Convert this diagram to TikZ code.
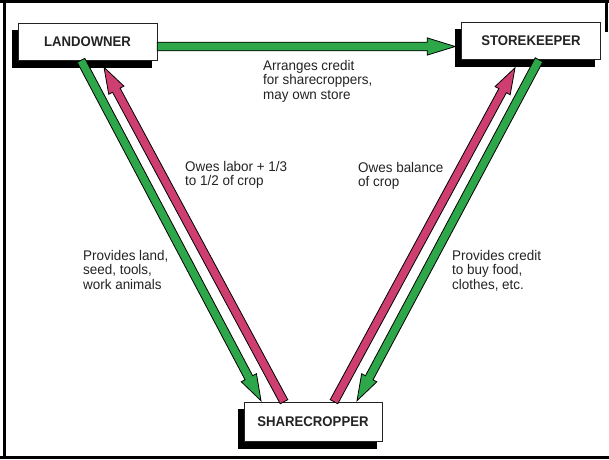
\documentclass[tikz,border=0pt]{standalone}
\usepackage{fontspec}
\setmainfont{Liberation Sans}
\usetikzlibrary{calc,shadows}
\definecolor{agreen}{RGB}{46,166,74}
\definecolor{apink}{RGB}{206,62,112}
\definecolor{ink}{RGB}{35,35,35}
\newcommand{\fatarrow}[4]{% start, tip, colour, head length
  \path ($(#2)!#4!(#1)$) coordinate (fatH);
  \filldraw[fill=#3,draw=black,line width=0.8pt,line join=miter]
    ($(#1)!4.3pt!90:(#2)$) -- ($(fatH)!4.3pt!90:(#2)$) -- ($(fatH)!8.6pt!90:(#2)$)
    -- (#2) -- ($(fatH)!8.6pt!-90:(#2)$) -- ($(fatH)!4.3pt!-90:(#2)$)
    -- ($(#1)!4.3pt!-90:(#2)$) -- cycle;
}
\tikzset{
  role/.style={draw=ink,line width=0.6pt,fill=white,minimum width=139pt,minimum height=37pt,
    inner sep=0pt,font={\fontspec{Liberation Sans}[FakeStretch=0.94]\bfseries\fontsize{14}{15}\selectfont},text=ink,
    copy shadow={shadow xshift=-6pt,shadow yshift=-7pt,fill=black,draw=black}},
  lbl/.style={align=left,inner sep=0pt,anchor=north west,text=ink,
    font={\fontspec{Liberation Sans}[FakeStretch=0.96]\fontsize{14}{14.6}\selectfont}},
  frameline/.style={line width=3pt,black}
}
\begin{document}
\begin{tikzpicture}[x=1pt,y=-1pt]
\useasboundingbox (0,0) rectangle (609,459);
\fill[white] (0,0) rectangle (609,459);
% frame
\draw[frameline] (4,0) -- (4,459);
\draw[frameline] (0,1.5) -- (609,1.5);
\draw[frameline] (0,457.5) -- (609,457.5);
\draw[frameline] (606.5,0) -- (606.5,32);
% boxes
\node[role] (land) at (87.5,41.5) {LANDOWNER};
\node[role] (store) at (531,41) {STOREKEEPER};
\node[role,minimum width=138pt,minimum height=39pt] (share) at (313,421.5) {SHARECROPPER};
% connector end points
\coordinate (hS) at ($(land.east)+(0,5)$);
\coordinate (hT) at ($(store.west)+(-6,5.5)$);
\coordinate (lgS) at ($(land.south)+(-6.5,0)$);
\coordinate (lgT) at ($(share.north)+(-52,-1)$);
\coordinate (lpS) at ($(share.north)+(-29,0)$);
\coordinate (lpT) at ($(land.south)+(16.5,7)$);
\coordinate (rpS) at ($(share.north)+(21,0)$);
\coordinate (rpT) at ($(store.south)+(-16,8)$);
\coordinate (rgS) at ($(store.south)+(8,0)$);
\coordinate (rgT) at ($(share.north)+(44,-1)$);
% arrows
\fatarrow{hS}{hT}{agreen}{28pt}
\fatarrow{lgS}{lgT}{agreen}{26pt}
\fatarrow{lpS}{lpT}{apink}{26pt}
\fatarrow{rpS}{rpT}{apink}{26pt}
\fatarrow{rgS}{rgT}{agreen}{26pt}
% labels
\node[lbl] (t1) at (263,60) {Arranges credit\\for sharecroppers,\\may own store};
\node[lbl] (t2) at (185,161) {Owes labor + 1/3\\to 1/2 of crop};
\node[lbl] (t3) at (83,250) {Provides land,\\seed, tools,\\work animals};
\node[lbl] (t4) at (358,162) {Owes balance\\of crop};
\node[lbl] (t5) at (452,250) {Provides credit\\to buy food,\\clothes, etc.};
\end{tikzpicture}
\end{document}
